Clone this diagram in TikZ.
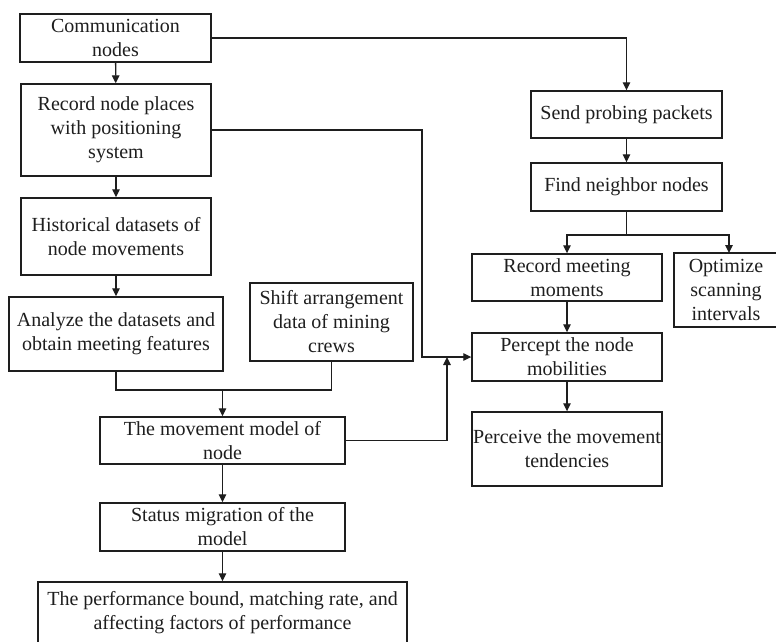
\documentclass[tikz,border=0pt]{standalone}
\usepackage{fontspec}
\setmainfont{Liberation Serif}
\usetikzlibrary{arrows.meta}
\definecolor{ink}{HTML}{1E1E1E}
\begin{document}
\begin{tikzpicture}[x=1pt,y=-1pt,
  box/.style={draw=ink,line width=1.4pt,inner sep=0pt,align=center,text=ink,
    font=\fontsize{20}{24}\selectfont},
  conn/.style={draw=ink,line width=1.3pt},
  arr/.style={conn,-{Triangle[length=8pt,width=7.5pt]}}]
\useasboundingbox (0,0) rectangle (776,641);
\clip (0,0) rectangle (776,641);
\fill[white] (0,0) rectangle (776,641);
% left column
\node[box,minimum width=191,minimum height=48] (comm) at (115.5,38) {Communication\\nodes};
\node[box,minimum width=190,minimum height=92] (rec) at (116,130) {Record node places\\with positioning\\system};
\node[box,minimum width=190,minimum height=77] (hist) at (116,236.5) {Historical datasets of\\node movements};
\node[box,minimum width=214,minimum height=74] (ana) at (116,334) {Analyze the datasets and\\obtain meeting features};
\node[box,minimum width=163,minimum height=78] (shift) at (331.5,322) {Shift arrangement\\data of mining\\crews};
\node[box,minimum width=245,minimum height=47] (model) at (222.5,440.5) {The movement model of\\node};
\node[box,minimum width=245,minimum height=48] (status) at (222.5,527) {Status migration of the\\model};
\node[box,minimum width=369,minimum height=62] (perf) at (222.5,613) {The performance bound, matching rate, and\\affecting factors of performance};
% right column
\node[box,minimum width=191,minimum height=47] (send) at (626.5,114.5) {Send probing packets};
\node[box,minimum width=191,minimum height=48] (find) at (626.5,187) {Find neighbor nodes};
\node[box,minimum width=190,minimum height=47] (rmm) at (567,277.5) {Record meeting\\moments};
\node[box,minimum width=104,minimum height=74] (opt) at (726,290) {Optimize\\scanning\\intervals};
\node[box,minimum width=190,minimum height=48] (perc) at (567,357) {Percept the node\\mobilities};
\node[box,minimum width=190,minimum height=74] (tend) at (567,449) {Perceive the movement\\tendencies};
% junction coordinates
\coordinate (j1) at (422,357);
\coordinate (j2) at (447,357);
\coordinate (mrg) at (222.5,390);
\coordinate (sp) at (626.5,235);
\coordinate (optin) at (729,253);
% connectors
\draw[arr] (comm) -- (rec);
\draw[arr] (rec) -- (hist);
\draw[arr] (hist) -- (ana);
\draw[arr] (comm.east) -| (send.north);
\draw[arr] (rec.east) -| (j1) -- (perc.west);
\draw[arr] (model.east) -| (j2);
\draw[conn] (ana.south) |- (mrg) -| (shift.south);
\draw[arr] (mrg) -- (model.north);
\draw[arr] (model) -- (status);
\draw[arr] (status) -- (perf);
\draw[arr] (send) -- (find);
\draw[conn] (find.south) -- (sp);
\draw[arr] (sp) -| (rmm.north);
\draw[arr] (sp) -| (optin);
\draw[arr] (rmm) -- (perc);
\draw[arr] (perc) -- (tend);
\end{tikzpicture}
\end{document}
